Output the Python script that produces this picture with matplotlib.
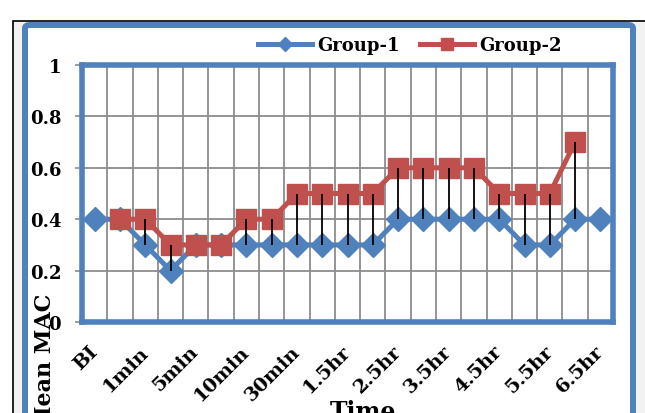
import numpy as np
import matplotlib
matplotlib.use("Agg")
import matplotlib.pyplot as plt
from matplotlib.patches import Rectangle, FancyBboxPatch

# 21 time points, only every second one is labelled on the axis
categories = ["BI", "0min", "1min", "3min", "5min", "7min", "10min", "20min",
              "30min", "1hr", "1.5hr", "2hr", "2.5hr", "3hr", "3.5hr", "4hr",
              "4.5hr", "5hr", "5.5hr", "6hr", "6.5hr"]
group1 = [0.4, 0.4, 0.3, 0.2, 0.3, 0.3, 0.3, 0.3, 0.3, 0.3, 0.3, 0.3,
          0.4, 0.4, 0.4, 0.4, 0.4, 0.3, 0.3, 0.4, 0.4]
group2 = [np.nan, 0.4, 0.4, 0.3, 0.3, 0.3, 0.4, 0.4, 0.5, 0.5, 0.5, 0.5,
          0.6, 0.6, 0.6, 0.6, 0.5, 0.5, 0.5, 0.7, np.nan]
yticks = [0, 0.2, 0.4, 0.6, 0.8, 1]

BLUE = "#4F81BD"
RED = "#C0504D"
GRID = "#8C8C8C"
W, H = 645, 414

plt.rcParams["font.family"] = ["DejaVu Serif"]
plt.rcParams["font.weight"] = "bold"

fig = plt.figure(figsize=(W / 100, H / 100), dpi=100)

# outer frames
fig.patches.append(Rectangle((13 / W, -0.1), 1.0, 1 - 22 / H + 0.1,
                             transform=fig.transFigure, facecolor="#F2F2F2",
                             edgecolor="black", lw=1.2, zorder=-2))
fig.patches.append(FancyBboxPatch((25 / W, -0.1), (633 - 25) / W, 1 - 26 / H + 0.1,
                                  boxstyle="round,pad=0,rounding_size=0.008",
                                  transform=fig.transFigure, facecolor="white",
                                  edgecolor=BLUE, lw=4.3, zorder=-1))

ax = fig.add_axes([82 / W, 1 - 323 / H, (613 - 82) / W, (323 - 66) / H])
ax.set_zorder(2)
x = np.arange(len(categories))

ax.plot(x, group1, color=BLUE, lw=3.6, marker="D", ms=12, zorder=3,
        label="Group-1")
ax.plot(x, group2, color=RED, lw=3.6, marker="s", ms=14, zorder=4,
        label="Group-2")

# high-low lines between the two series
g1 = np.array(group1)
g2 = np.array(group2)
both = ~np.isnan(g2)
ax.vlines(x[both], np.minimum(g1, g2)[both], np.maximum(g1, g2)[both],
          color="black", lw=1.3, zorder=5)

ax.set_xlim(-0.5, len(categories) - 0.5)
ax.set_ylim(0, 1)
ax.set_yticks(yticks)
ax.set_yticklabels([f"{v:g}" for v in yticks], fontsize=13, fontweight="bold")
ax.set_xticks(x[::2])
ax.set_xticklabels(categories[::2], rotation=45, ha="right", va="center",
                   rotation_mode="anchor", fontsize=14, fontweight="bold")

ax.tick_params(axis="x", length=0, pad=19)
ax.tick_params(axis="y", length=5, width=1.2, color=GRID, pad=10)

ax.set_xticks(np.arange(-0.5, len(categories), 1), minor=True)
ax.tick_params(axis="x", which="minor", length=0)
ax.grid(True, axis="x", which="minor", color=GRID, lw=1.3)
ax.grid(True, axis="y", which="major", color=GRID, lw=1.3)
ax.set_axisbelow(True)

for s in ax.spines.values():
    s.set_color(BLUE)
    s.set_linewidth(4)

ax.set_ylabel("Mean MAC", fontsize=16, fontweight="bold")
ax.yaxis.set_label_coords(-0.049, -0.15)
ax.set_xlabel("Time", fontsize=17, fontweight="bold")
ax.xaxis.set_label_coords((363 - 82) / (613 - 82), -0.30)

fig.legend(loc="center", bbox_to_anchor=(410 / W, 1 - 46 / H), ncol=2,
           frameon=False, handlelength=3.0, handletextpad=0.3,
           columnspacing=1.1, markerscale=0.6,
           prop={"weight": "bold", "size": 13})

fig.savefig("out.png", dpi=100)
